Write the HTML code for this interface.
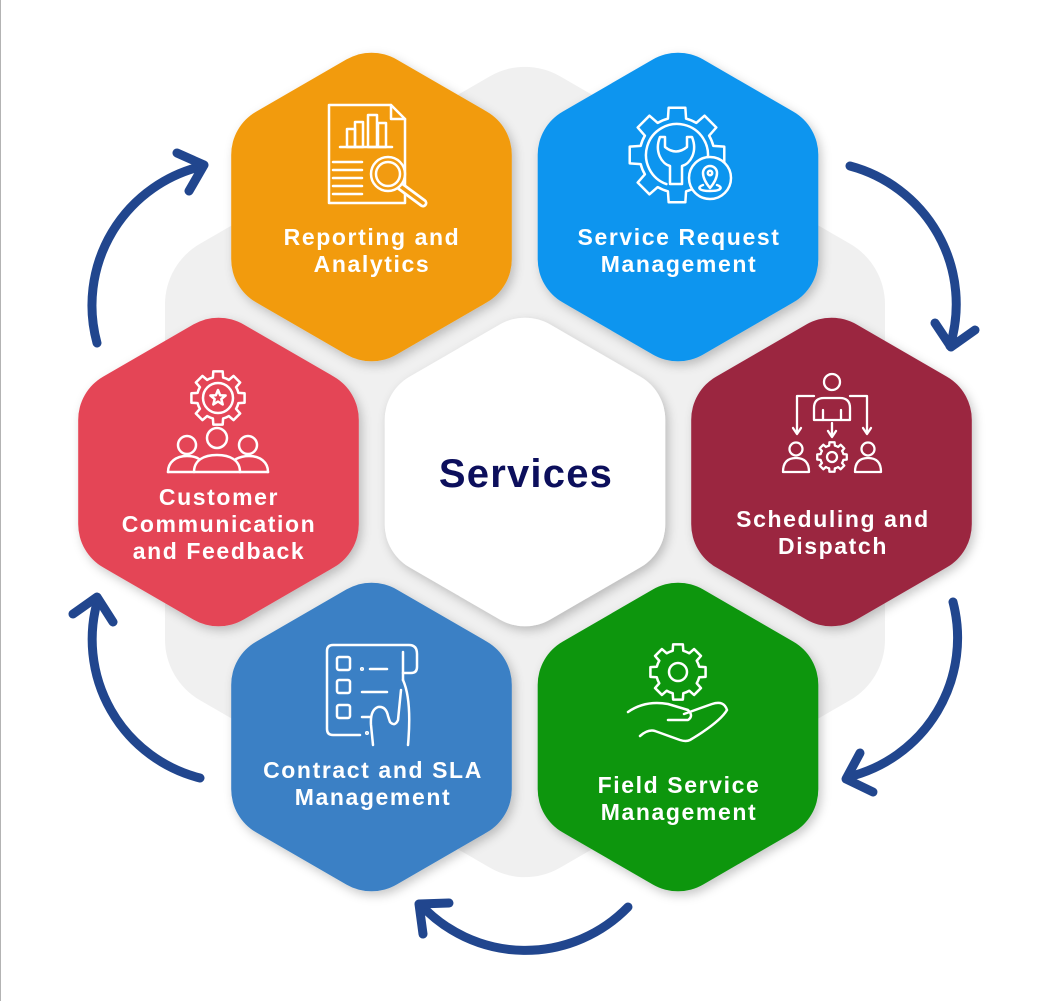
<!DOCTYPE html>
<html>
<head>
<meta charset="utf-8">
<style>
  html,body{margin:0;padding:0;background:#fff;}
  svg{display:block;}
</style>
</head>
<body>
<svg width="1050" height="1001" viewBox="0 0 1050 1001" xmlns="http://www.w3.org/2000/svg">
  <defs>
    <path id="hex" d="M25,-147.57 L115.3,-95.43 A50,50 0 0 1 140.3,-52.13 L140.3,52.13 A50,50 0 0 1 115.3,95.43 L25,147.57 A50,50 0 0 1 -25,147.57 L-115.3,95.43 A50,50 0 0 1 -140.3,52.13 L-140.3,-52.13 A50,50 0 0 1 -115.3,-95.43 L-25,-147.57 A50,50 0 0 1 25,-147.57 Z"/>
    <path id="gear" d="M75.7,-18.9 L98.5,-17.4 L98.5,17.4 L75.7,18.9 A78,78 0 0 1 66.9,40.2 L81.9,57.4 L57.4,81.9 L40.2,66.9 A78,78 0 0 1 18.9,75.7 L17.4,98.5 L-17.4,98.5 L-18.9,75.7 A78,78 0 0 1 -40.2,66.9 L-57.4,81.9 L-81.9,57.4 L-66.9,40.2 A78,78 0 0 1 -75.7,18.9 L-98.5,17.4 L-98.5,-17.4 L-75.7,-18.9 A78,78 0 0 1 -66.9,-40.2 L-81.9,-57.4 L-57.4,-81.9 L-40.2,-66.9 A78,78 0 0 1 -18.9,-75.7 L-17.4,-98.5 L17.4,-98.5 L18.9,-75.7 A78,78 0 0 1 40.2,-66.9 L57.4,-81.9 L81.9,-57.4 L66.9,-40.2 A78,78 0 0 1 75.7,-18.9 Z"/>
    <filter id="sh" x="-20%" y="-20%" width="140%" height="140%">
      <feDropShadow dx="3" dy="4" stdDeviation="5" flood-color="#000" flood-opacity="0.22"/>
    </filter>
  </defs>

  <rect width="1050" height="1001" fill="#fff"/>
  <line x1="0.5" y1="0" x2="0.5" y2="1001" stroke="#b3b3b3" stroke-width="1"/>

  <!-- big gray background hexagon -->
  <path transform="translate(525,472)" fill="#f0f0f0" d="M35,-395.8 L325,-228.2 A70,70 0 0 1 360,-167.6 L360,167.6 A70,70 0 0 1 325,228.2 L35,395.8 A70,70 0 0 1 -35,395.8 L-325,228.2 A70,70 0 0 1 -360,167.6 L-360,-167.6 A70,70 0 0 1 -325,-228.2 L-35,-395.8 A70,70 0 0 1 35,-395.8 Z"/>

  <!-- hexagons -->
  <g filter="url(#sh)">
    <use href="#hex" transform="translate(371.5,207)" fill="#f29b11"/>
    <use href="#hex" transform="translate(678,207)" fill="#0c95ef"/>
    <use href="#hex" transform="translate(218.5,472)" fill="#e44556"/>
    <use href="#hex" transform="translate(525,472)" fill="#ffffff"/>
    <use href="#hex" transform="translate(831.5,472)" fill="#9b2541"/>
    <use href="#hex" transform="translate(371.5,737)" fill="#3a80c5"/>
    <use href="#hex" transform="translate(678,737)" fill="#08960d"/>
  </g>

  <!-- arrows -->
  <g fill="none" stroke="#21468e" stroke-width="9" stroke-linecap="round" stroke-linejoin="round">
    <path d="M97,343 A143,143 0 0 1 203,166"/>
    <polyline points="177,153 204,165 189,191"/>
    <path d="M850,166 A143,143 0 0 1 950,346"/>
    <polyline points="935,323 951,347 975,330"/>
    <path d="M953,602 A143,143 0 0 1 848,777"/>
    <polyline points="860,753 846,779 873,792"/>
    <path d="M628,907 A143,143 0 0 1 420,904"/>
    <polyline points="449,903 419,904 423,934"/>
    <path d="M200,778 A143,143 0 0 1 98,599"/>
    <polyline points="73,614 97,597 113,622"/>
  </g>

  <!-- ICON: Reporting and Analytics -->
  <g fill="none" stroke="#fff" stroke-width="2.5" stroke-linecap="round" stroke-linejoin="round">
    <path d="M329,105 H391 L405,119 V203 H329 Z"/>
    <path d="M391,105 V119 H405"/>
    <path d="M340,147 H392"/>
    <rect x="347" y="129" width="8" height="18"/>
    <rect x="355" y="122" width="8" height="25"/>
    <rect x="368" y="115" width="9" height="32"/>
    <rect x="378" y="123" width="8" height="24"/>
    <path d="M333,162 H362 M333,170 H362 M333,178 H362 M333,186 H362 M333,194 H362"/>
    <line x1="400" y1="186" x2="423" y2="203" stroke-width="9"/>
    <line x1="400" y1="186" x2="423" y2="203" stroke="#f29b11" stroke-width="3.5"/>
    <circle cx="388" cy="174" r="17" fill="#f29b11"/>
    <circle cx="388" cy="174" r="12"/>
  </g>

  <!-- ICON: Service Request Management -->
  <g fill="none" stroke="#fff" stroke-width="2.5" stroke-linecap="round" stroke-linejoin="round">
    <use href="#gear" transform="translate(677,155) scale(0.48)" stroke-width="5.2"/>
    <path d="M666.4,184.1 A31,31 0 1 1 707.5,160.4"/>
    <path d="M660,137 C654,152 662,164 670,166 L670,184 L682,184 L682,166 C690,164 698,152 692,137 L687,137 L687,147 Q676,156 665,147 L665,137 Z"/>
    <circle cx="710" cy="178" r="21" fill="#0c95ef"/>
    <path d="M710,188 C705,182 703,177 703,173 A7,7 0 0 1 717,173 C717,177 715,182 710,188 Z"/>
    <circle cx="710" cy="173" r="2.2"/>
    <path d="M703,185 C697,187 698,191 710,191 C722,191 723,187 717,185"/>
  </g>

  <!-- ICON: Customer Communication and Feedback -->
  <g fill="none" stroke="#fff" stroke-width="2.5" stroke-linecap="round" stroke-linejoin="round">
    <use href="#gear" transform="translate(218,398) scale(0.27)" stroke-width="9.3"/>
    <circle cx="218" cy="398" r="15"/>
    <polygon points="218,390 220.1,395.2 225.6,395.5 221.3,399.1 222.7,404.5 218,401.5 213.3,404.5 214.7,399.1 210.4,395.5 215.9,395.2"/>
    <circle cx="217" cy="438" r="10"/>
    <circle cx="187" cy="445" r="9"/>
    <circle cx="248" cy="445" r="9"/>
    <path d="M168,472 H268"/>
    <path d="M194,472 C194,460 204,455 217,455 C230,455 240,460 240,472"/>
    <path d="M168,472 C168,462 176,456 187,456 C192,456 196,457 199,459"/>
    <path d="M268,472 C268,462 260,456 249,456 C244,456 240,457 236,459"/>
  </g>

  <!-- ICON: Scheduling and Dispatch -->
  <g fill="none" stroke="#fff" stroke-width="2.3" stroke-linecap="round" stroke-linejoin="round">
    <circle cx="832" cy="382" r="8"/>
    <path d="M814,420 V408 Q814,398 824,398 H840 Q850,398 850,408 V420 Z"/>
    <path d="M823,410 V420 M841,410 V420"/>
    <path d="M814,396 H797 V433"/>
    <path d="M793,428 L797,434 L801,428"/>
    <path d="M850,396 H867 V433"/>
    <path d="M863,428 L867,434 L871,428"/>
    <path d="M832,423 V436"/>
    <path d="M828,431 L832,437 L836,431"/>
    <use href="#gear" transform="translate(832,457) scale(0.15)" stroke-width="15"/>
    <circle cx="832" cy="457" r="5"/>
    <circle cx="796" cy="449" r="6.5"/>
    <path d="M783,472 Q783,458 796,458 Q809,458 809,472 Z"/>
    <circle cx="868" cy="449" r="6.5"/>
    <path d="M855,472 Q855,458 868,458 Q881,458 881,472 Z"/>
  </g>

  <!-- ICON: Contract and SLA Management -->
  <g fill="none" stroke="#fff" stroke-width="2.5" stroke-linecap="round" stroke-linejoin="round">
    <path d="M360,735 H333 Q327,735 327,729 V651 Q327,645 333,645 H409 Q417,645 417,654 V667 Q417,673 411,673 H403"/>
    <path d="M403,652 V680"/>
    <rect x="337" y="657" width="13" height="13" rx="2"/>
    <rect x="337" y="680" width="13" height="13" rx="2"/>
    <rect x="337" y="705" width="13" height="13" rx="2"/>
    <circle cx="362" cy="669" r="0.8"/>
    <path d="M370,669 H387"/>
    <path d="M362,692 H387"/>
    <path d="M362,717 H370"/>
    <circle cx="367" cy="733" r="0.8"/>
    <path d="M373,745 L371,725 Q370,710 378,707 Q386,706 388,716 L390,722 Q395,727 398,720 L401,690"/>
    <path d="M403,680 Q412,700 408,745"/>
  </g>

  <!-- ICON: Field Service Management -->
  <g fill="none" stroke="#fff" stroke-width="2.5" stroke-linecap="round" stroke-linejoin="round">
    <use href="#gear" transform="translate(678,672) scale(0.28)" stroke-width="9"/>
    <circle cx="678" cy="672" r="9"/>
    <path d="M628,712 Q645,700 668,704 L688,710 Q694,716 688,720 L668,720"/>
    <path d="M684,714 L712,704 Q724,700 727,710 Q720,722 690,740 Q686,742 680,740 L655,731 Q648,729 640,736"/>
  </g>

  <!-- labels -->
  <g font-family="'Liberation Sans', Arial, sans-serif" font-weight="bold" font-size="23" fill="#fff" text-anchor="middle" letter-spacing="1.6">
    <text x="372" y="245">Reporting and</text>
    <text x="372" y="272">Analytics</text>
    <text x="679" y="245">Service Request</text>
    <text x="679" y="272">Management</text>
    <text x="219" y="505">Customer</text>
    <text x="219" y="532">Communication</text>
    <text x="219" y="559">and Feedback</text>
    <text x="833" y="527">Scheduling and</text>
    <text x="833" y="554">Dispatch</text>
    <text x="373" y="778">Contract and SLA</text>
    <text x="373" y="805">Management</text>
    <text x="679" y="793">Field Service</text>
    <text x="679" y="820">Management</text>
  </g>
  <text x="526" y="487" font-family="'Liberation Sans', Arial, sans-serif" font-weight="bold" font-size="40" fill="#0c0f5c" text-anchor="middle" letter-spacing="1.2">Services</text>
</svg>
</body>
</html>
